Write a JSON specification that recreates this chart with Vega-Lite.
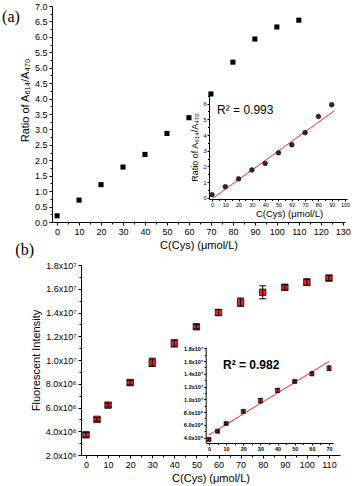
{
  "$schema": "https://vega.github.io/schema/vega-lite/v6.json",
  "width": 354,
  "height": 486,
  "autosize": {"type": "none"},
  "padding": 0,
  "background": "white",
  "config": {
    "view": {"stroke": null},
    "font": "Liberation Sans",
    "axis": {
      "grid": false,
      "domainColor": "#000",
      "tickColor": "#000",
      "labelColor": "#000",
      "titleColor": "#000",
      "labelFont": "Liberation Sans",
      "titleFont": "Liberation Sans",
      "titleFontWeight": "normal",
      "labelFlush": false,
      "minExtent": 0,
      "domainWidth": 1,
      "tickWidth": 1
    }
  },
  "datasets": {
    "a": [
      {"c": 0, "r": 0.2}, {"c": 10, "r": 0.71}, {"c": 20, "r": 1.21}, {"c": 30, "r": 1.78},
      {"c": 40, "r": 2.19}, {"c": 50, "r": 2.87}, {"c": 60, "r": 3.38}, {"c": 70, "r": 4.15},
      {"c": 80, "r": 5.18}, {"c": 90, "r": 5.93}, {"c": 100, "r": 6.32}, {"c": 110, "r": 6.54}
    ],
    "aFit": [{"c": 1, "r": 0}, {"c": 92, "r": 5.55}],
    "b": [
      {"c": 0, "i": 3700000, "lo": 3500000, "hi": 3900000},
      {"c": 5, "i": 5000000, "lo": 4850000, "hi": 5150000},
      {"c": 10, "i": 6200000, "lo": 6050000, "hi": 6350000},
      {"c": 20, "i": 8100000, "lo": 7900000, "hi": 8300000},
      {"c": 30, "i": 9800000, "lo": 9450000, "hi": 10150000},
      {"c": 40, "i": 11400000, "lo": 11100000, "hi": 11700000},
      {"c": 50, "i": 12800000, "lo": 12620000, "hi": 12980000},
      {"c": 60, "i": 14000000, "lo": 13750000, "hi": 14250000},
      {"c": 70, "i": 14870000, "lo": 14520000, "hi": 15220000},
      {"c": 80, "i": 15700000, "lo": 15150000, "hi": 16250000},
      {"c": 90, "i": 16120000, "lo": 15900000, "hi": 16340000},
      {"c": 100, "i": 16550000, "lo": 16270000, "hi": 16830000},
      {"c": 110, "i": 16900000, "lo": 16680000, "hi": 17120000}
    ],
    "bFit": [{"c": 0, "i": 4400000}, {"c": 70, "i": 15950000}]
  },
  "layer": [
    {
      "data": {"values": [{}]},
      "mark": {"type": "text", "text": ""},
      "encoding": {
        "x": {
          "datum": 0, "type": "quantitative",
          "scale": {"domain": [-2.3, 131], "range": [52, 345], "nice": false, "zero": false},
          "axis": {"orient": "bottom", "offset": -264, "tickCount": 200, "values": [5,15,25,35,45,55,65,75,85,95,105,115,125], "labels": false, "domain": false, "title": null, "tickSize": 2}
        },
        "y": {
          "datum": 0, "type": "quantitative",
          "scale": {"domain": [0, 7], "range": [222, 6], "nice": false, "zero": false},
          "axis": {"orient": "left", "offset": -52, "tickCount": 200, "values": [0.25,0.75,1.25,1.75,2.25,2.75,3.25,3.75,4.25,4.75,5.25,5.75,6.25,6.75], "labels": false, "domain": false, "title": null, "tickSize": 2}
        }
      }
    },
    {
      "layer": [
        {
          "data": {"name": "a"},
          "mark": {"type": "square", "size": 26, "color": "#000", "opacity": 1},
          "encoding": {
            "x": {
              "field": "c", "type": "quantitative",
              "scale": {"domain": [-2.3, 131], "range": [52, 345], "nice": false, "zero": false},
              "axis": {
                "orient": "bottom", "offset": -264, "labelOverlap": false, "tickCount": 200,
                "values": [0,10,20,30,40,50,60,70,80,90,100,110,120,130],
                "format": "d",
                "title": "C(Cys) (μmol/L)", "titleFontSize": 11, "labelFontSize": 9,
                "tickSize": 3, "labelPadding": 2, "titlePadding": 3
              }
            },
            "y": {
              "field": "r", "type": "quantitative",
              "scale": {"domain": [0, 7], "range": [222, 6], "nice": false, "zero": false},
              "axis": {
                "orient": "left", "offset": -52, "labelOverlap": false, "tickCount": 200,
                "values": [0,0.5,1,1.5,2,2.5,3,3.5,4,4.5,5,5.5,6,6.5,7],
                "format": ".1f",
                "title": "Ratio of A₆₁₄/A₄₇₀", "titleFontSize": 11, "labelFontSize": 9,
                "tickSize": 3, "labelPadding": 2, "titlePadding": 4, "titleY": 100
              }
            }
          }
        },
        {
          "data": {"values": [{}]},
          "mark": {"type": "text", "text": "(a)", "font": "Liberation Serif", "fontSize": 16, "align": "left", "baseline": "middle", "color": "#000"},
          "encoding": {"x": {"datum": -25}, "y": {"datum": 6.65}}
        }
      ]
    },
    {
      "data": {"values": [{}]},
      "mark": {"type": "text", "text": ""},
      "encoding": {
        "x": {
          "datum": 0, "type": "quantitative",
          "scale": {"domain": [-2.25, 101.5], "range": [209, 347], "nice": false, "zero": false},
          "axis": {"orient": "bottom", "offset": -287, "tickCount": 200, "values": [5,15,25,35,45,55,65,75,85,95], "labels": false, "domain": false, "title": null, "tickSize": 1.5}
        },
        "y": {
          "datum": 0, "type": "quantitative",
          "scale": {"domain": [-0.07, 6.55], "range": [199, 95], "nice": false, "zero": false},
          "axis": {"orient": "left", "offset": -209, "tickCount": 200, "values": [0.5,1.5,2.5,3.5,4.5,5.5,6.5], "labels": false, "domain": false, "title": null, "tickSize": 1.5}
        }
      }
    },
    {
      "layer": [
        {
          "data": {"name": "aFit"},
          "mark": {"type": "line", "color": "#f22", "strokeWidth": 1},
          "encoding": {
            "x": {
              "field": "c", "type": "quantitative",
              "scale": {"domain": [-2.25, 101.5], "range": [209, 347], "nice": false, "zero": false},
              "axis": {
                "orient": "bottom", "offset": -287, "labelOverlap": false, "tickCount": 200,
                "values": [0,10,20,30,40,50,60,70,80,90,100],
                "format": "d",
                "title": "C(Cys) (μmol/L)", "titleFontSize": 9.5, "labelFontSize": 5.5,
                "tickSize": 2, "labelPadding": 1, "titlePadding": 1, "titleX": 289
              }
            },
            "y": {
              "field": "r", "type": "quantitative",
              "scale": {"domain": [-0.07, 6.55], "range": [199, 95], "nice": false, "zero": false},
              "axis": {
                "orient": "left", "offset": -209, "labelOverlap": false, "tickCount": 200,
                "values": [0,1,2,3,4,5,6],
                "format": "d",
                "title": "Ratio of A₆₁₄/A₄₇₀", "titleFontSize": 9, "labelFontSize": 5.5,
                "tickSize": 2, "labelPadding": 1, "titlePadding": 3
              }
            }
          }
        },
        {
          "data": {"name": "a"},
          "transform": [{"filter": "datum.c <= 90"}],
          "mark": {"type": "circle", "size": 22, "color": "#2b2b2b", "stroke": "#000", "strokeWidth": 0.6, "opacity": 1},
          "encoding": {
            "x": {"field": "c", "type": "quantitative"},
            "y": {"field": "r", "type": "quantitative"}
          }
        },
        {
          "data": {"values": [{}]},
          "mark": {"type": "text", "text": "R² = 0.993", "fontSize": 12, "align": "left", "baseline": "middle", "color": "#000"},
          "encoding": {"x": {"datum": 3.8}, "y": {"datum": 5.6}}
        }
      ]
    },
    {
      "data": {"values": [{}]},
      "mark": {"type": "text", "text": ""},
      "encoding": {
        "x": {
          "datum": 0, "type": "quantitative",
          "scale": {"domain": [-2.26, 115], "range": [81, 340], "nice": false, "zero": false},
          "axis": {"orient": "bottom", "offset": -31, "tickCount": 200, "values": [5,15,25,35,45,55,65,75,85,95,105], "labels": false, "domain": false, "title": null, "tickSize": 2}
        },
        "y": {
          "datum": 0, "type": "quantitative",
          "scale": {"domain": [2000000, 18000000], "range": [455, 265], "nice": false, "zero": false},
          "axis": {"orient": "left", "offset": -81, "tickCount": 200, "values": [3000000,5000000,7000000,9000000,11000000,13000000,15000000,17000000], "labels": false, "domain": false, "title": null, "tickSize": 2}
        }
      }
    },
    {
      "layer": [
        {
          "data": {"name": "b"},
          "mark": {"type": "square", "size": 42, "color": "#ee1c1c", "stroke": "#111", "strokeWidth": 0.8, "opacity": 1},
          "encoding": {
            "x": {
              "field": "c", "type": "quantitative",
              "scale": {"domain": [-2.26, 115], "range": [81, 340], "nice": false, "zero": false},
              "axis": {
                "orient": "bottom", "offset": -31, "labelOverlap": false, "tickCount": 200,
                "values": [0,10,20,30,40,50,60,70,80,90,100,110],
                "format": "d",
                "title": "C(Cys) (μmol/L)", "titleFontSize": 11, "labelFontSize": 9,
                "tickSize": 3, "labelPadding": 2, "titlePadding": 3
              }
            },
            "y": {
              "field": "i", "type": "quantitative",
              "scale": {"domain": [2000000, 18000000], "range": [455, 265], "nice": false, "zero": false},
              "axis": {
                "orient": "left", "offset": -81, "labelOverlap": false, "tickCount": 200,
                "values": [2000000,4000000,6000000,8000000,10000000,12000000,14000000,16000000,18000000],
                "labelExpr": "datum.value >= 10000000 ? format(datum.value/10000000, '.1f') + 'x10⁷' : format(datum.value/1000000, '.1f') + 'x10⁶'",
                "title": "Fluorescent Intensity", "titleFontSize": 11, "labelFontSize": 9,
                "tickSize": 3, "labelPadding": 2, "titlePadding": 4
              }
            }
          }
        },
        {
          "data": {"name": "b"},
          "mark": {"type": "rule", "color": "#000", "strokeWidth": 1},
          "encoding": {
            "x": {"field": "c", "type": "quantitative"},
            "y": {"field": "lo", "type": "quantitative"},
            "y2": {"field": "hi"}
          }
        },
        {
          "data": {"name": "b"},
          "mark": {"type": "tick", "orient": "horizontal", "size": 7, "thickness": 1, "color": "#000", "opacity": 1},
          "encoding": {
            "x": {"field": "c", "type": "quantitative"},
            "y": {"field": "lo", "type": "quantitative"}
          }
        },
        {
          "data": {"name": "b"},
          "mark": {"type": "tick", "orient": "horizontal", "size": 7, "thickness": 1, "color": "#000", "opacity": 1},
          "encoding": {
            "x": {"field": "c", "type": "quantitative"},
            "y": {"field": "hi", "type": "quantitative"}
          }
        },
        {
          "data": {"values": [{}]},
          "mark": {"type": "text", "text": "(b)", "font": "Liberation Serif", "fontSize": 16, "align": "left", "baseline": "middle", "color": "#000"},
          "encoding": {"x": {"datum": -32}, "y": {"datum": 19250000}}
        }
      ]
    },
    {
      "data": {"values": [{}]},
      "mark": {"type": "text", "text": ""},
      "encoding": {
        "x": {
          "datum": 0, "type": "quantitative",
          "scale": {"domain": [-1.9, 72.3], "range": [205.7, 333], "nice": false, "zero": false},
          "axis": {"orient": "bottom", "offset": -43, "tickCount": 200, "values": [5,15,25,35,45,55,65], "labels": false, "domain": false, "title": null, "tickSize": 1.5}
        },
        "y": {
          "datum": 0, "type": "quantitative",
          "scale": {"domain": [3150000, 18200000], "range": [443, 347], "nice": false, "zero": false},
          "axis": {"orient": "left", "offset": -205.7, "tickCount": 200, "values": [5000000,7000000,9000000,11000000,13000000,15000000,17000000], "labels": false, "domain": false, "title": null, "tickSize": 1.5}
        }
      }
    },
    {
      "layer": [
        {
          "data": {"name": "bFit"},
          "mark": {"type": "line", "color": "#f22", "strokeWidth": 1},
          "encoding": {
            "x": {
              "field": "c", "type": "quantitative",
              "scale": {"domain": [-1.9, 72.3], "range": [205.7, 333], "nice": false, "zero": false},
              "axis": {
                "orient": "bottom", "offset": -43, "labelOverlap": false, "tickCount": 200,
                "values": [0,10,20,30,40,50,60,70],
                "format": "d",
                "title": null, "labelFontSize": 5.5, "labelFontWeight": "bold",
                "tickSize": 2, "labelPadding": 1
              }
            },
            "y": {
              "field": "i", "type": "quantitative",
              "scale": {"domain": [3150000, 18200000], "range": [443, 347], "nice": false, "zero": false},
              "axis": {
                "orient": "left", "offset": -205.7, "labelOverlap": false, "tickCount": 200,
                "values": [4000000,6000000,8000000,10000000,12000000,14000000,16000000,18000000],
                "labelExpr": "datum.value >= 10000000 ? format(datum.value/10000000, '.1f') + 'x10⁷' : format(datum.value/1000000, '.1f') + 'x10⁶'",
                "title": null, "labelFontSize": 5.5, "labelFontWeight": "bold",
                "tickSize": 2, "labelPadding": 1
              }
            }
          }
        },
        {
          "data": {"name": "b"},
          "transform": [{"filter": "datum.c <= 70"}],
          "mark": {"type": "square", "size": 18, "color": "#ee1c1c", "stroke": "#111", "strokeWidth": 0.6, "opacity": 1},
          "encoding": {
            "x": {"field": "c", "type": "quantitative"},
            "y": {"field": "i", "type": "quantitative"}
          }
        },
        {
          "data": {"name": "b"},
          "transform": [{"filter": "datum.c <= 70"}],
          "mark": {"type": "rule", "color": "#000", "strokeWidth": 1},
          "encoding": {
            "x": {"field": "c", "type": "quantitative"},
            "y": {"field": "lo", "type": "quantitative"},
            "y2": {"field": "hi"}
          }
        },
        {
          "data": {"name": "b"},
          "transform": [{"filter": "datum.c <= 70"}],
          "mark": {"type": "tick", "orient": "horizontal", "size": 4, "thickness": 1, "color": "#000", "opacity": 1},
          "encoding": {
            "x": {"field": "c", "type": "quantitative"},
            "y": {"field": "lo", "type": "quantitative"}
          }
        },
        {
          "data": {"name": "b"},
          "transform": [{"filter": "datum.c <= 70"}],
          "mark": {"type": "tick", "orient": "horizontal", "size": 4, "thickness": 1, "color": "#000", "opacity": 1},
          "encoding": {
            "x": {"field": "c", "type": "quantitative"},
            "y": {"field": "hi", "type": "quantitative"}
          }
        },
        {
          "data": {"values": [{}]},
          "mark": {"type": "text", "text": "R² = 0.982", "fontSize": 12, "fontWeight": "bold", "align": "left", "baseline": "middle", "color": "#000"},
          "encoding": {"x": {"datum": 8.2}, "y": {"datum": 15400000}}
        }
      ]
    }
  ],
  "resolve": {
    "scale": {"x": "independent", "y": "independent"},
    "axis": {"x": "independent", "y": "independent"}
  }
}
